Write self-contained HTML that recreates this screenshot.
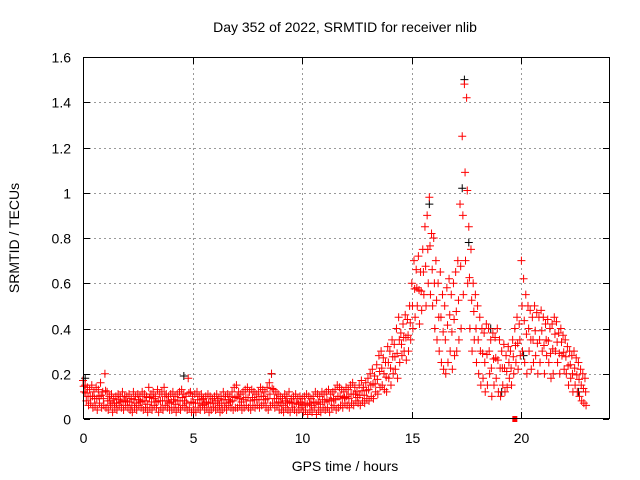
<!DOCTYPE html>
<html><head><meta charset="utf-8"><style>
body{margin:0;background:#fff;}
svg{display:block;font-family:"Liberation Sans",sans-serif;}
</style></head><body>
<svg id="chart" width="640" height="480" viewBox="0 0 640 480" xmlns="http://www.w3.org/2000/svg">
<rect width="640" height="480" fill="#fff"/>
<text x="345" y="32" font-size="14" text-anchor="middle">Day 352 of 2022, SRMTID for receiver nlib</text>
<text x="345" y="471" font-size="14" text-anchor="middle">GPS time / hours</text>
<text transform="translate(19,238) rotate(-90)" font-size="14" text-anchor="middle">SRMTID / TECUs</text>
<g id="grid"></g>
<g id="ticks"></g>
<g id="marks"></g>
<rect x="83.5" y="57.5" width="526" height="361" fill="none" stroke="#000" stroke-width="1"/>
</svg>
<script>
const xTicks=[0,5,10,15,20];
const yTicks=[0,0.2,0.4,0.6,0.8,1,1.2,1.4,1.6];
const yTickLabels=["0","0.2","0.4","0.6","0.8","1","1.2","1.4","1.6"];
const tStart=0, tStep=0.1;
const redHi=[.17,.15,.14,.13,.15,.12,.14,.13,.16,.12,
.2,.12,.1,.11,.09,.1,.11,.1,.12,.1,
.1,.11,.09,.12,.1,.11,.1,.12,.11,.1,
.14,.11,.12,.1,.13,.11,.12,.14,.11,.1,
.11,.12,.1,.11,.12,.13,.11,.1,.18,.12,
.1,.11,.12,.1,.11,.09,.1,.11,.1,.09,
.1,.11,.09,.1,.12,.1,.11,.1,.12,.14,
.15,.12,.11,.12,.13,.14,.12,.13,.12,.11,
.12,.14,.13,.12,.14,.16,.2,.13,.12,.11,
.1,.09,.11,.1,.12,.09,.1,.11,.09,.1,
.09,.1,.11,.1,.09,.1,.12,.11,.1,.12,
.11,.12,.13,.11,.12,.13,.15,.14,.13,.12,
.14,.13,.15,.16,.14,.12,.15,.17,.14,.16,
.18,.2,.22,.19,.24,.28,.3,.27,.25,.32,
.3,.35,.33,.4,.45,.38,.42,.46,.44,.5,
.6,.7,.66,.72,.65,.75,.85,.9,.98,.82,
.8,.7,.6,.65,.55,.5,.58,.62,.55,.6,
.65,.7,.95,1.25,1.48,1.42,.85,.75,.6,.55,
.5,.45,.4,.38,.42,.4,.35,.38,.36,.4,
.35,.3,.33,.28,.32,.3,.35,.4,.45,.42,
.7,.62,.55,.5,.48,.45,.5,.47,.45,.48,
.45,.42,.44,.4,.42,.45,.43,.38,.4,.37,
.35,.32,.3,.28,.3,.27,.25,.22,.2,.18];
const redLo=[.12,.08,.06,.07,.05,.06,.04,.07,.05,.06,
.05,.04,.06,.03,.05,.04,.06,.05,.04,.06,
.05,.04,.03,.05,.04,.06,.05,.04,.05,.03,
.05,.04,.06,.05,.03,.05,.04,.06,.05,.04,
.04,.05,.03,.05,.04,.06,.05,.04,.05,.03,
.04,.03,.05,.04,.06,.04,.05,.03,.04,.05,
.04,.05,.03,.04,.05,.04,.06,.05,.04,.05,
.05,.06,.04,.05,.06,.05,.04,.06,.05,.06,
.05,.06,.07,.05,.04,.06,.07,.05,.06,.04,
.04,.03,.05,.04,.03,.05,.04,.03,.04,.05,
.03,.04,.02,.04,.03,.05,.02,.04,.03,.05,
.04,.05,.03,.05,.06,.04,.05,.06,.05,.07,
.06,.05,.07,.06,.08,.07,.06,.08,.07,.09,
.08,.1,.09,.12,.11,.14,.15,.13,.12,.18,
.15,.2,.22,.18,.25,.28,.3,.26,.3,.35,
.4,.45,.5,.42,.48,.55,.5,.6,.55,.5,
.4,.35,.3,.25,.22,.2,.25,.3,.22,.28,
.3,.35,.4,.55,.7,.6,.4,.3,.35,.25,
.2,.15,.18,.12,.15,.2,.1,.15,.18,.12,
.1,.15,.12,.14,.18,.15,.2,.25,.22,.28,
.3,.25,.2,.3,.22,.25,.28,.2,.25,.3,
.2,.28,.25,.18,.2,.3,.25,.2,.28,.22,
.2,.15,.18,.12,.15,.12,.1,.08,.07,.06];
const blackT=[0.1,4.6,8.6,15.8,17.3,17.4,17.6,18.6,19.1,20.1,22.6];
const blackV=[0.18,0.19,0.2,0.95,1.02,1.5,0.78,0.4,0.12,0.28,0.12];
const markerT=[19.7];
const markerV=[0];

const X=t=>83+t*21.92;
const Y=v=>419-v*226.25;
const NS="http://www.w3.org/2000/svg";
const grid=document.getElementById('grid'),ticks=document.getElementById('ticks'),marks=document.getElementById('marks');
function mk(tag,attrs,parent){const e=document.createElementNS(NS,tag);for(const k in attrs)e.setAttribute(k,attrs[k]);parent.appendChild(e);return e;}
xTicks.forEach(t=>{
 const x=Math.round(X(t))+0.5;
 if(t>0){const g=mk('line',{x1:x,y1:58,x2:x,y2:418,stroke:'#999','stroke-dasharray':'2,3'},grid);
 
 }
 mk('line',{x1:x,y1:418,x2:x,y2:412,stroke:'#000'},ticks);
 mk('line',{x1:x,y1:58,x2:x,y2:64,stroke:'#000'},ticks);
 const l=mk('text',{x:x,y:443,'font-size':14,'text-anchor':'middle'},ticks);l.textContent=t;
 
 
});
yTicks.forEach((v,i)=>{
 const y=Math.round(Y(v))+0.5;
 if(v>0&&v<1.6){const g=mk('line',{x1:84,y1:y,x2:609,y2:y,stroke:'#999','stroke-dasharray':'2,3'},grid);
 
 }
 mk('line',{x1:84,y1:y,x2:90,y2:y,stroke:'#000'},ticks);
 mk('line',{x1:609,y1:y,x2:603,y2:y,stroke:'#000'},ticks);
 const l=mk('text',{x:71,y:y+5,'font-size':14,'text-anchor':'end'},ticks);l.textContent=yTickLabels[i];
 
 
});
function plus(t,v,color,name){
 const x=X(t),y=Y(v);
 const p=mk('path',{d:`M${x-4},${y}H${x+4}M${x},${y-4}V${y+4}`,stroke:color,'stroke-width':1,fill:'none'},marks);
 
 
}
blackT.forEach((t,i)=>plus(t,blackV[i],'#000','black-point'));
redHi.forEach((v,i)=>plus(tStart+i*tStep,v,'#f00','red-point'));
redLo.forEach((v,i)=>plus(tStart+i*tStep+0.05,v,'#f00','red-point'));
redHi.forEach((v,i)=>{const lo=redLo[i];plus(tStart+i*tStep+0.03,(v+lo)/2,'#f00','red-point');});
markerT.forEach((t,i)=>{const r=mk('rect',{x:X(t)-2.5,y:Y(markerV[i])-3,width:5,height:6,fill:'#f00'},marks);
 
 });
</script>
</body></html>
